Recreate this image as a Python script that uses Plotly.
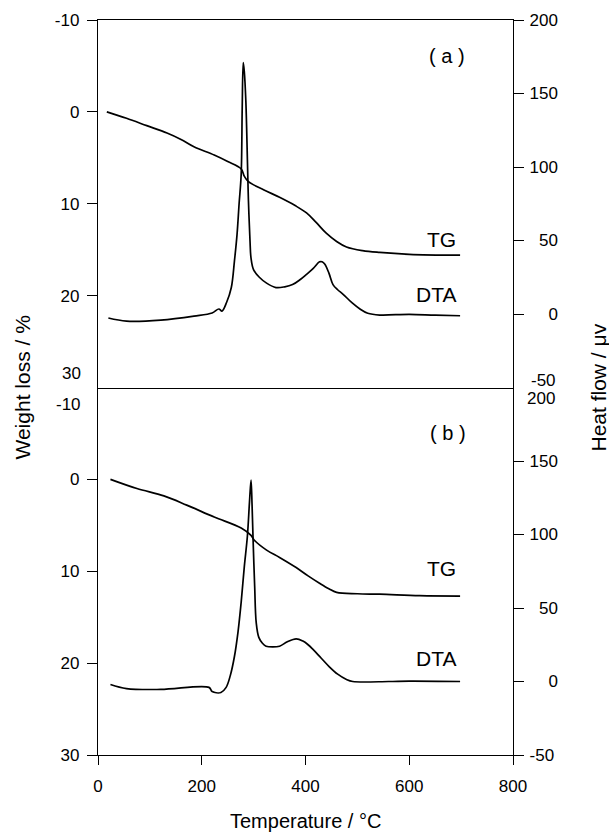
import plotly.graph_objects as go

# ---- data ----
a_tg_T = [17, 55, 94, 133, 160, 185, 224, 250, 276, 282, 290, 320, 350, 380, 402, 420, 440, 460, 479, 510, 543, 600, 698]
a_tg_W = [0, 0.7, 1.5, 2.3, 3.0, 3.8, 4.7, 5.4, 6.2, 7.0, 7.6, 8.5, 9.3, 10.2, 11.0, 12.0, 13.2, 14.1, 14.7, 15.1, 15.3, 15.5, 15.6]

a_dta_T = [20, 55, 121, 185, 220, 233, 239, 248, 257, 263, 268, 272, 276, 278, 280, 282, 285, 288, 290,
           293, 295, 300, 311, 325, 343, 360, 375, 390, 402, 415, 427, 432, 437, 445, 453, 462, 472, 490, 505, 520,
           543, 600, 650, 698]
a_dta_H = [-2.7, -4.8, -4.1, -1.4, 0.7, 3.4, 2, 8, 18, 36, 54, 75, 95, 140, 171, 165, 145, 105, 77,
           50, 38, 30, 25, 21, 18, 18.5, 20, 23.5, 27, 31, 35.5, 35.5, 34, 28, 20, 16.5, 13.6, 7.5, 3.4, 0.5,
           -0.7, -0.2, -0.8, -1.2]

b_tg_T = [24, 75, 127, 171, 224, 276, 295, 301, 325, 350, 382, 405, 427, 445, 460, 500, 543, 620, 698]
b_tg_W = [0, 1.0, 1.8, 2.8, 4.1, 5.3, 6.1, 6.6, 7.7, 8.5, 9.6, 10.5, 11.3, 11.9, 12.3, 12.45, 12.5, 12.65, 12.7]

b_dta_T = [24, 55, 121, 214, 220, 237, 247, 255, 263, 270, 276, 282, 288, 292, 295, 297, 299, 302, 305,
           310, 317, 324, 337, 350, 365, 382, 395, 405, 414, 430, 446, 462, 479, 491, 560, 600, 698]
b_dta_H = [-2, -4.8, -5.4, -4, -6.8, -7.5, -4, 4, 17, 34, 54, 78, 99, 122, 137, 120, 96, 65, 40,
           30, 26, 24, 23.5, 24, 27, 29, 27.5, 25, 22, 16, 10, 5, 1.4, 0, 0, 0.3, 0]

x_ticks = [0, 200, 400, 600, 800]
w_ticks_top = [-10, 0, 10, 20]
w_ticks_bot = [0, 10, 20, 30]
h_ticks_top = [0, 50, 100, 150, 200]
h_ticks_bot = [-50, 0, 50, 100, 150]

FONT = "Liberation Sans, Arial, sans-serif"
line = dict(color="black", width=1.7)
FS = "\u2007"  # figure space, to right-align the right-hand tick labels


def lbl(v):
    return str(v).replace("\u2212", "-")


def rlbl(v):
    s = lbl(v)
    return FS * (3 - len(s)) + s


fig = go.Figure()
fig.add_trace(go.Scatter(x=a_tg_T, y=a_tg_W, xaxis="x2", yaxis="y", mode="lines", line=line, line_shape="spline"))
fig.add_trace(go.Scatter(x=a_dta_T, y=a_dta_H, xaxis="x2", yaxis="y2", mode="lines", line=line, line_shape="spline"))
fig.add_trace(go.Scatter(x=b_tg_T, y=b_tg_W, xaxis="x", yaxis="y3", mode="lines", line=line, line_shape="spline"))
fig.add_trace(go.Scatter(x=b_dta_T, y=b_dta_H, xaxis="x", yaxis="y4", mode="lines", line=line, line_shape="spline"))


def ax(**kw):
    base = dict(showline=True, linecolor="black", linewidth=1.4, showgrid=False, zeroline=False,
                ticks="outside", ticklen=10, tickwidth=1.4, tickcolor="black",
                tickfont=dict(family=FONT, size=17, color="black"))
    base.update(kw)
    return base


fig.update_layout(
    width=609, height=835,
    margin=dict(l=98, r=96, t=20, b=80),
    paper_bgcolor="white", plot_bgcolor="white",
    showlegend=False,
    font=dict(family=FONT, color="black"),
    xaxis=ax(domain=[0, 1], anchor="y3", range=[0, 800], tickvals=x_ticks,
             ticktext=[lbl(v) for v in x_ticks], ticklen=9, ticklabelstandoff=6),
    xaxis2=dict(showline=True, linecolor="black", linewidth=1.4, mirror=True, showgrid=False, zeroline=False,
                showticklabels=False, ticks="", domain=[0, 1], anchor="y", range=[0, 800], matches="x"),
    yaxis=ax(domain=[0.5, 1], anchor="x2", range=[30, -10], tickvals=w_ticks_top,
             ticktext=[lbl(v) for v in w_ticks_top], ticklabelstandoff=4),
    yaxis2=ax(overlaying="y", side="right", anchor="x2", range=[-50, 200], tickvals=h_ticks_top,
              ticktext=[rlbl(v) for v in h_ticks_top], ticklabelstandoff=2),
    yaxis3=ax(domain=[0, 0.5], anchor="x", range=[30, -10], tickvals=w_ticks_bot,
              ticktext=[lbl(v) for v in w_ticks_bot], ticklabelstandoff=4),
    yaxis4=ax(overlaying="y3", side="right", anchor="x", range=[-50, 200], tickvals=h_ticks_bot,
              ticktext=[rlbl(v) for v in h_ticks_bot], ticklabelstandoff=2),
)

tf = dict(family=FONT, size=17, color="black")
lf = dict(family=FONT, size=21, color="black")
pf = dict(family=FONT, size=20, color="black")
ann = [
    # junction tick labels (offset so they do not collide)
    dict(x=0, xref="paper", y=30, yref="y", text="30", showarrow=False, xanchor="right", xshift=-15, yshift=14, font=tf),
    dict(x=0, xref="paper", y=-10, yref="y3", text="-10", showarrow=False, xanchor="right", xshift=-15, yshift=-17, font=tf),
    dict(x=1, xref="paper", y=-50, yref="y2", text="-50", showarrow=False, xanchor="right", xshift=45, yshift=7, font=tf),
    dict(x=1, xref="paper", y=200, yref="y4", text="200", showarrow=False, xanchor="right", xshift=44, yshift=-11, font=tf),
    # panel labels
    dict(x=673, xref="x2", y=-6.1, yref="y", text="( a )", showarrow=False, font=pf),
    dict(x=674, xref="x", y=-5.0, yref="y3", text="( b )", showarrow=False, font=pf),
    dict(x=694, xref="x2", y=13.9, yref="y", text="TG", showarrow=False, xanchor="right", font=lf),
    dict(x=694, xref="x2", y=19.9, yref="y", text="DTA", showarrow=False, xanchor="right", font=lf),
    dict(x=694, xref="x", y=9.7, yref="y3", text="TG", showarrow=False, xanchor="right", font=lf),
    dict(x=694, xref="x", y=19.5, yref="y3", text="DTA", showarrow=False, xanchor="right", font=lf),
    # axis titles
    dict(x=0, xref="paper", y=0.5, yref="paper", text="Weight loss / %", showarrow=False,
         textangle=-90, xanchor="center", xshift=-76, font=lf),
    dict(x=0.5, xref="paper", y=0, yref="paper", text="Temperature / °C", showarrow=False,
         yanchor="middle", yshift=-66, borderpad=0, font=dict(family=FONT, size=20, color="black")),
    dict(x=1, xref="paper", y=0.5, yref="paper", text="Heat flow / μv", showarrow=False, textangle=-90,
         xanchor="center", xshift=85, font=lf),
]
fig.update_layout(annotations=ann)

fig.write_html("out.html", config={"displayModeBar": False},
               post_script="document.body.style.margin='0';document.body.style.padding='0';")
